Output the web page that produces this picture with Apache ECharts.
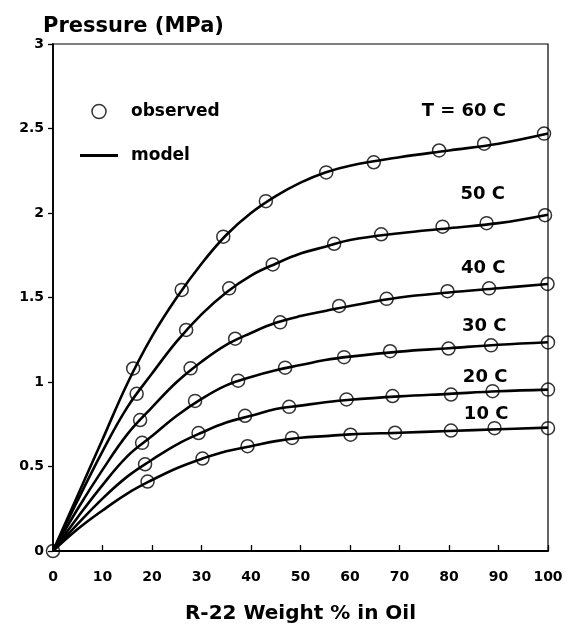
<!DOCTYPE html>
<html><head><meta charset="utf-8">
<script src="https://cdn.jsdelivr.net/npm/echarts@6/dist/echarts.min.js"></script>
<style>html,body{margin:0;padding:0;background:#fff}#c{width:567px;height:629px}</style>
</head><body><div id="c"></div>
<script>
// Model curves
const modelX = [0,5,10,15,20,25,30,35,40,45,50,55,60,70,80,90,100];
const model60 = [0,0.33,0.66,0.99,1.27,1.50,1.70,1.87,2.00,2.10,2.18,2.24,2.28,2.33,2.37,2.41,2.47];
const model50 = [0,0.30,0.59,0.85,1.05,1.24,1.40,1.53,1.63,1.70,1.76,1.80,1.84,1.88,1.91,1.94,1.99];
const model40 = [0,0.25,0.48,0.69,0.85,1.00,1.12,1.22,1.29,1.35,1.39,1.42,1.45,1.50,1.53,1.555,1.58];
const model30 = [0,0.20,0.39,0.56,0.68,0.80,0.90,0.98,1.03,1.07,1.10,1.13,1.15,1.18,1.20,1.22,1.235];
const model20 = [0,0.16,0.31,0.44,0.54,0.63,0.70,0.76,0.80,0.84,0.86,0.88,0.895,0.915,0.93,0.945,0.955];
const model10 = [0,0.13,0.24,0.34,0.42,0.49,0.545,0.59,0.62,0.65,0.67,0.68,0.69,0.70,0.71,0.72,0.73];
// Observed points [x, y]
const obs60 = [[0,0],[16.2,1.08],[26.0,1.545],[34.4,1.86],[43.0,2.07],[55.2,2.24],[64.8,2.30],[78.0,2.37],[87.1,2.41],[99.2,2.47]];
const obs50 = [[16.9,0.93],[26.9,1.308],[35.6,1.554],[44.4,1.696],[56.8,1.818],[66.3,1.874],[78.7,1.919],[87.6,1.94],[99.4,1.987]];
const obs40 = [[17.6,0.775],[27.8,1.081],[36.8,1.256],[45.9,1.353],[57.8,1.45],[67.4,1.492],[79.7,1.537],[88.1,1.554],[99.9,1.58]];
const obs30 = [[18.0,0.64],[28.7,0.888],[37.4,1.008],[46.9,1.085],[58.8,1.147],[68.1,1.182],[79.9,1.198],[88.5,1.217],[100,1.234]];
const obs20 = [[18.6,0.513],[29.4,0.698],[38.8,0.80],[47.7,0.853],[59.3,0.897],[68.6,0.917],[80.4,0.926],[88.8,0.946],[100,0.955]];
const obs10 = [[19.1,0.411],[30.2,0.547],[39.3,0.62],[48.3,0.669],[60.1,0.688],[69.1,0.70],[80.4,0.713],[89.2,0.727],[100,0.727]];
// Curve labels and their anchor positions
const curveLabels = ['T = 60 C','50 C','40 C','30 C','20 C','10 C'];
const labelPos = [[83.0,2.60],[86.8,2.11],[86.9,1.67],[87.1,1.33],[87.3,1.03],[87.5,0.81]];
const xTicks = [0,10,20,30,40,50,60,70,80,90,100];
const yTicks = [0,0.5,1,1.5,2,2.5,3];

const FONT = 'DejaVu Sans';
const models = [model60, model50, model40, model30, model20, model10];
const observed = [].concat(obs60, obs50, obs40, obs30, obs20, obs10);

const series = [];
models.forEach((m, i) => {
  series.push({
    name: 'model', type: 'line', smooth: 0.4,
    symbol: 'none', showSymbol: false,
    data: modelX.map((x, j) => [x, m[j]]),
    lineStyle: {color: '#000', width: 2.6},
    itemStyle: {color: '#000'},
    z: 2,
    markPoint: {
      symbol: 'circle', symbolSize: 0, silent: true,
      label: {show: true, position: 'inside', color: '#000', fontFamily: FONT, fontWeight: 'bold', fontSize: 18,
        formatter: curveLabels[i]},
      data: [{coord: labelPos[i], value: curveLabels[i]}]
    }
  });
});
series.push({
  name: 'observed', type: 'scatter', symbol: 'circle', symbolSize: 13,
  data: observed,
  itemStyle: {color: 'rgba(255,255,255,0)', borderColor: '#000', borderWidth: 1.5},
  z: 3
});

const chart = echarts.init(document.getElementById('c'), null, {renderer: 'canvas'});
chart.setOption({
  animation: false,
  backgroundColor: '#fff',
  grid: {left: 53, right: 19, top: 44, bottom: 69, show: true, borderColor: '#000', borderWidth: 1.2, backgroundColor: 'transparent'},
  legend: {
    orient: 'vertical', left: 75, top: 98, itemWidth: 38, itemHeight: 14, itemGap: 27,
    data: [
      {name: 'observed', icon: 'circle', itemStyle: {color: 'rgba(255,255,255,0)', borderColor: '#000', borderWidth: 1.5}},
      {name: 'model', icon: 'path://M0,0 L40,0 L40,3 L0,3 Z', itemStyle: {color: '#000'}}
    ],
    textStyle: {fontFamily: FONT, fontWeight: 'bold', fontSize: 17, color: '#000', padding: [0, 0, 0, 8]}
  },
  xAxis: {
    type: 'value', min: 0, max: 100, interval: 10,
    name: 'R-22 Weight % in Oil', nameLocation: 'middle', nameGap: 53,
    nameTextStyle: {fontFamily: FONT, fontWeight: 'bold', fontSize: 20, color: '#000'},
    axisLine: {show: true, lineStyle: {color: '#000', width: 1.8}},
    axisTick: {show: true, inside: true, length: 6, lineStyle: {color: '#000', width: 1.3}},
    axisLabel: {margin: 19, fontFamily: FONT, fontWeight: 'bold', fontSize: 14, color: '#000',
      formatter: v => xTicks.includes(v) ? String(v) : ''},
    splitLine: {show: false}
  },
  yAxis: {
    type: 'value', min: 0, max: 3, interval: 0.5,
    name: 'Pressure (MPa)', nameLocation: 'end', nameGap: 7,
    nameTextStyle: {fontFamily: FONT, fontWeight: 'bold', fontSize: 21, color: '#000', align: 'left', padding: [0, 0, 0, -10]},
    axisLine: {show: true, lineStyle: {color: '#000', width: 1.8}},
    axisTick: {show: true, inside: false, length: 5, lineStyle: {color: '#000', width: 1.3}},
    axisLabel: {margin: 9, fontFamily: FONT, fontWeight: 'bold', fontSize: 14, color: '#000',
      formatter: v => yTicks.includes(v) ? String(v) : ''},
    splitLine: {show: false}
  },
  series: series
});
</script>
</body></html>
